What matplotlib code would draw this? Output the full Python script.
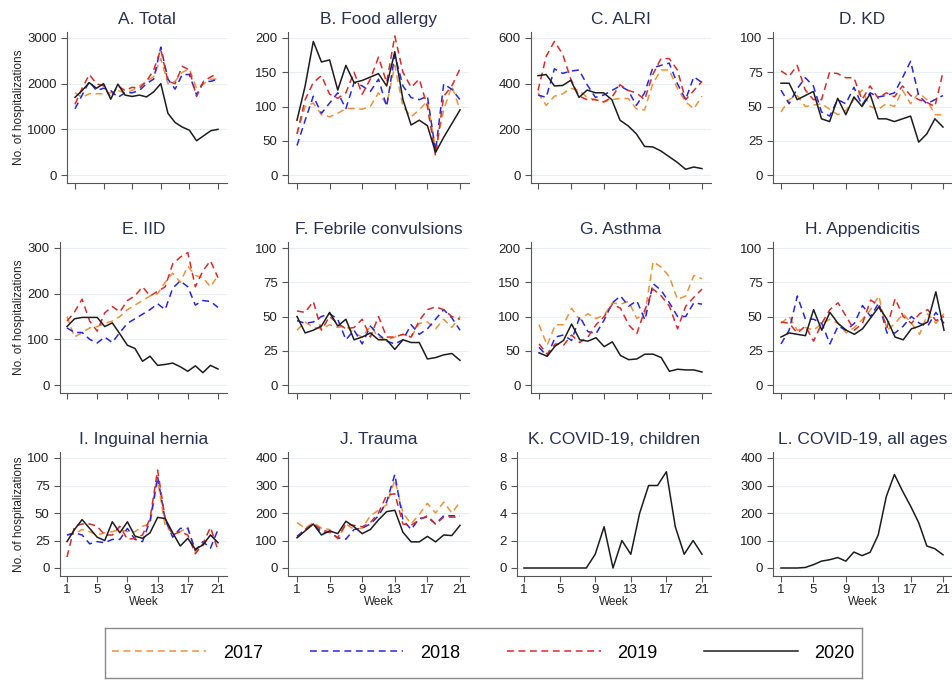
import matplotlib.pyplot as plt

weeks = list(range(1, 22))
years = ["2017", "2018", "2019", "2020"]

# weekly hospitalizations, weeks 1-21
total_17 = [1800, 1700, 1780, 1780, 1780, 1800, 1850, 1800, 1850, 1950, 2050, 2150, 2550, 2000, 2050, 2250, 2320, 1900, 2000, 2100, 2100]
total_18 = [1450, 1750, 2050, 1850, 1900, 1850, 1700, 1800, 1800, 1850, 2000, 2100, 2800, 2100, 1880, 2200, 2200, 1750, 2050, 2050, 2100]
total_19 = [1550, 1900, 2200, 2000, 1950, 1700, 1950, 1850, 1920, 1900, 2050, 2300, 2750, 2050, 2000, 2380, 2300, 1720, 2050, 2150, 2220]
total_20 = [1700, 1850, 2020, 1900, 2000, 1660, 1990, 1750, 1720, 1750, 1710, 1820, 2000, 1350, 1150, 1050, 980, 750, 860, 970, 1000]

food_17 = [60, 100, 105, 88, 85, 90, 97, 97, 96, 100, 120, 103, 160, 100, 85, 95, 108, 38, 95, 130, 95]
food_18 = [43, 80, 115, 90, 105, 120, 97, 135, 130, 122, 140, 100, 175, 130, 113, 110, 115, 35, 133, 125, 110]
food_19 = [60, 110, 135, 145, 118, 112, 120, 150, 118, 140, 172, 135, 203, 150, 128, 140, 100, 28, 115, 130, 155]
food_20 = [80, 130, 195, 165, 168, 124, 160, 135, 138, 143, 148, 130, 180, 110, 73, 80, 72, 33, 55, 75, 95]

alri_17 = [360, 305, 345, 355, 380, 370, 340, 330, 320, 330, 335, 335, 290, 285, 400, 460, 460, 380, 320, 290, 345]
alri_18 = [350, 340, 465, 445, 455, 460, 395, 340, 350, 370, 390, 370, 305, 360, 470, 480, 490, 400, 330, 430, 405]
alri_19 = [370, 520, 585, 530, 420, 345, 330, 330, 320, 340, 395, 370, 360, 330, 440, 510, 510, 460, 330, 370, 410]
alri_20 = [435, 440, 390, 392, 415, 340, 372, 360, 360, 330, 240, 215, 180, 125, 123, 105, 80, 55, 25, 35, 28]

kd_17 = [46, 55, 58, 50, 51, 52, 48, 44, 47, 55, 62, 50, 48, 52, 50, 62, 52, 60, 55, 44, 44]
kd_18 = [62, 52, 63, 71, 65, 46, 43, 55, 52, 64, 51, 60, 57, 58, 60, 71, 83, 58, 52, 55, 58]
kd_19 = [76, 72, 80, 62, 55, 55, 75, 74, 71, 71, 55, 65, 56, 60, 57, 65, 58, 55, 53, 50, 75]
kd_20 = [67, 67, 55, 58, 61, 41, 39, 56, 44, 57, 50, 59, 41, 41, 39, 41, 43, 24, 30, 41, 35]

iid_17 = [150, 105, 115, 125, 128, 135, 140, 150, 165, 175, 185, 195, 200, 225, 245, 225, 260, 240, 235, 215, 240]
iid_18 = [125, 115, 115, 100, 92, 105, 93, 115, 135, 145, 155, 165, 178, 165, 212, 228, 215, 175, 185, 183, 170]
iid_19 = [140, 160, 188, 140, 118, 158, 172, 160, 185, 195, 215, 195, 205, 215, 265, 280, 290, 215, 250, 272, 235]
iid_20 = [128, 145, 148, 148, 148, 128, 136, 112, 87, 80, 52, 63, 43, 45, 48, 40, 30, 42, 27, 43, 35]

febrile_17 = [40, 46, 42, 41, 44, 42, 43, 38, 35, 43, 35, 33, 35, 37, 35, 45, 46, 41, 48, 42, 50]
febrile_18 = [47, 45, 46, 50, 52, 48, 33, 40, 30, 43, 37, 32, 30, 33, 44, 37, 41, 48, 55, 49, 40]
febrile_19 = [54, 53, 61, 40, 50, 45, 41, 42, 48, 35, 50, 35, 35, 37, 35, 47, 55, 57, 55, 50, 48]
febrile_20 = [50, 38, 40, 43, 53, 43, 48, 33, 35, 38, 33, 33, 26, 33, 31, 31, 19, 20, 22, 23, 18]

asthma_17 = [88, 58, 88, 88, 112, 95, 104, 97, 102, 120, 118, 122, 97, 105, 180, 172, 158, 125, 130, 160, 155]
asthma_18 = [55, 42, 70, 73, 65, 100, 78, 75, 95, 120, 130, 115, 123, 95, 148, 138, 120, 100, 100, 120, 118]
asthma_19 = [60, 45, 60, 58, 73, 62, 70, 88, 100, 118, 112, 88, 75, 110, 140, 130, 115, 82, 115, 128, 140]
asthma_20 = [47, 42, 57, 65, 89, 66, 64, 69, 56, 63, 43, 37, 38, 45, 45, 40, 20, 23, 22, 22, 19]

append_17 = [45, 50, 40, 42, 40, 45, 48, 45, 38, 42, 48, 55, 65, 40, 45, 52, 45, 37, 52, 45, 52]
append_18 = [30, 40, 65, 48, 48, 45, 30, 43, 40, 45, 58, 50, 60, 38, 38, 43, 50, 45, 43, 53, 45]
append_19 = [46, 45, 38, 43, 32, 45, 55, 60, 50, 40, 45, 62, 58, 42, 63, 50, 45, 52, 55, 47, 50]
append_20 = [35, 38, 37, 36, 55, 40, 53, 45, 40, 37, 41, 49, 57, 48, 35, 33, 41, 43, 46, 68, 40]

hernia_17 = [30, 31, 35, 33, 30, 32, 33, 35, 33, 33, 38, 40, 80, 38, 32, 33, 37, 15, 20, 30, 25]
hernia_18 = [30, 32, 30, 22, 24, 23, 26, 26, 36, 26, 24, 43, 83, 44, 28, 36, 36, 16, 24, 18, 35]
hernia_19 = [10, 38, 40, 40, 38, 30, 30, 38, 26, 27, 30, 45, 89, 45, 30, 33, 30, 13, 22, 37, 16]
hernia_20 = [24, 35, 44, 36, 28, 25, 42, 32, 42, 29, 27, 32, 46, 45, 32, 20, 27, 17, 21, 30, 23]

trauma_17 = [165, 145, 165, 145, 140, 105, 160, 140, 145, 190, 210, 230, 320, 200, 160, 195, 235, 200, 240, 200, 240]
trauma_18 = [115, 140, 160, 130, 130, 110, 105, 140, 145, 160, 190, 240, 340, 175, 140, 180, 185, 160, 190, 190, 190]
trauma_19 = [110, 140, 160, 140, 130, 110, 160, 155, 150, 165, 200, 265, 270, 160, 155, 175, 190, 160, 185, 185, 185]
trauma_20 = [110, 135, 160, 120, 135, 125, 170, 150, 125, 140, 175, 205, 210, 130, 95, 95, 115, 95, 120, 118, 155]

covid_kids_20 = [0, 0, 0, 0, 0, 0, 0, 0, 1, 3, 0, 2, 1, 4, 6, 6, 7, 3, 1, 2, 1]
covid_all_20 = [0, 0, 0, 2, 12, 25, 30, 38, 25, 58, 45, 57, 120, 260, 340, 280, 225, 165, 80, 70, 48]

plt.rcParams['font.family'] = ['Liberation Sans', 'DejaVu Sans']

W, H = 953, 683
fig = plt.figure(figsize=(W / 100, H / 100), dpi=100)

colors = {"2017": "#e8923f", "2018": "#2626dc", "2019": "#d42b2b", "2020": "#1c1c1c"}
title_col = "#28314f"
axis_col = "#555555"


def make_axes(spine_x, w1, w21, top_tick, zero_y, ymax):
    # place the axes so that week 1/21 and 0/ymax land on the given pixels
    right = w21 + 9
    top = top_tick - 6
    bottom = zero_y + 8
    ax = fig.add_axes([spine_x / W, 1 - bottom / H, (right - spine_x) / W, (bottom - top) / H])
    sx = (w21 - w1) / 20
    ax.set_xlim(1 - (w1 - spine_x) / sx, 21 + (right - w21) / sx)
    sy = (zero_y - top_tick) / ymax
    ax.set_ylim(-(bottom - zero_y) / sy, ymax + (top_tick - top) / sy)
    return ax


rows = [(38, 175), (248, 385), (458, 568)]

panels = [
    ("A. Total", [total_17, total_18, total_19, total_20], [0, 1000, 2000, 3000], (67, 75, 218), 0),
    ("B. Food allergy", [food_17, food_18, food_19, food_20], [0, 50, 100, 150, 200], (288, 297, 460), 0),
    ("C. ALRI", [alri_17, alri_18, alri_19, alri_20], [0, 200, 400, 600], (531, 538, 702), 0),
    ("D. KD", [kd_17, kd_18, kd_19, kd_20], [0, 25, 50, 75, 100], (773, 781, 943), 0),
    ("E. IID", [iid_17, iid_18, iid_19, iid_20], [0, 100, 200, 300], (60, 67, 218), 1),
    ("F. Febrile convulsions", [febrile_17, febrile_18, febrile_19, febrile_20], [0, 25, 50, 75, 100], (288, 297, 460), 1),
    ("G. Asthma", [asthma_17, asthma_18, asthma_19, asthma_20], [0, 50, 100, 150, 200], (531, 539, 702), 1),
    ("H. Appendicitis", [append_17, append_18, append_19, append_20], [0, 25, 50, 75, 100], (773, 781, 944), 1),
    ("I. Inguinal hernia", [hernia_17, hernia_18, hernia_19, hernia_20], [0, 25, 50, 75, 100], (60, 67, 218), 2),
    ("J. Trauma", [trauma_17, trauma_18, trauma_19, trauma_20], [0, 100, 200, 300, 400], (288, 297, 460), 2),
    ("K. COVID-19, children", [None, None, None, covid_kids_20], [0, 2, 4, 6, 8], (517, 524, 702), 2),
    ("L. COVID-19, all ages", [None, None, None, covid_all_20], [0, 100, 200, 300, 400], (773, 781, 943), 2),
]

handles = {}
for i, (title, series, yticks, (sx, w1, w21), r) in enumerate(panels):
    top_tick, zero_y = rows[r]
    ax = make_axes(sx, w1, w21, top_tick, zero_y, yticks[-1])
    for yr, vals in zip(years, series):
        if vals is None:
            continue
        if yr == "2020":
            ln, = ax.plot(weeks, vals, color=colors[yr], lw=1.1, zorder=5)
        else:
            ln, = ax.plot(weeks, vals, color=colors[yr], lw=1.1, dashes=(4.5, 3), zorder=4)
        handles.setdefault(yr, ln)
    ax.set_yticks(yticks)
    ax.set_xticks([1, 5, 9, 13, 17, 21])
    for y in yticks:
        ax.axhline(y, color="#e6eff2", lw=0.8, zorder=1)
    ax.tick_params(axis="both", direction="out", length=4, width=0.8, color=axis_col,
                   labelsize=9.5, labelcolor="#222222", pad=2)
    ax.tick_params(axis="y", pad=3.5)
    for side in ("top", "right"):
        ax.spines[side].set_visible(False)
    for side in ("left", "bottom"):
        ax.spines[side].set_color(axis_col)
        ax.spines[side].set_linewidth(0.8)
    if r < 2:
        ax.set_xticklabels([])
    else:
        ax.set_xlabel("Week", fontsize=8.5, labelpad=0, color="#222222")
    if i % 4 == 0:
        ax.set_ylabel("No. of hospitalizations", fontsize=8.5, color="#222222", labelpad=1.5)
    ax.set_title(title, fontsize=12.5, color=title_col, pad=6)

# legend box along the bottom
lax = fig.add_axes([105 / W, 1 - 678 / H, (862 - 105) / W, 50 / H])
lax.set_xticks([])
lax.set_yticks([])
for s in lax.spines.values():
    s.set_color("#8a8a8a")
    s.set_linewidth(1.0)
lax.legend([handles[y] for y in years], years, loc="center", ncol=4, frameon=False,
           fontsize=13, handlelength=5.2, handletextpad=0.9, columnspacing=2.6)

fig.savefig("out.png", dpi=100)
